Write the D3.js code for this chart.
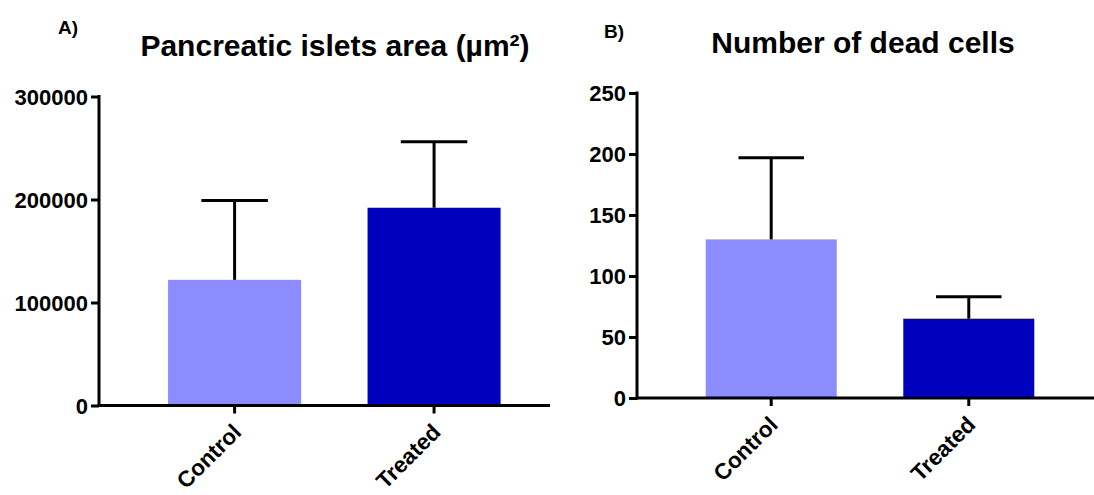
<!DOCTYPE html>
<html>
<head>
<meta charset="utf-8">
<script src="https://cdn.jsdelivr.net/npm/d3@7"></script>
<style>
  html, body { margin: 0; padding: 0; background: #fff; }
  svg text { font-family: "Liberation Sans", Arial, sans-serif; font-weight: bold; fill: #000; }
</style>
</head>
<body>
<svg id="chart" width="1094" height="495"></svg>
<script>
// Groups and colours
const categories = ["Control", "Treated"];
const barColors = ["#8c8cff", "#0000be"];

// Panel A: pancreatic islets area (mean and SD)
const areaMeans = [122000, 192000];
const areaSD = [77000, 64000];
const areaTicks = [0, 100000, 200000, 300000];

// Panel B: number of dead cells (mean and SD)
const deadMeans = [130, 65];
const deadSD = [67, 18];
const deadTicks = [0, 50, 100, 150, 200, 250];

const svg = d3.select("#chart");

function panel(cfg) {
  const g = svg.append("g");
  const y = d3.scaleLinear().domain(cfg.yDomain).range([cfg.y0, cfg.y1]);
  const x = d3.scaleBand().domain(categories).range([cfg.x0, cfg.x1])
    .paddingInner(cfg.padInner).paddingOuter(cfg.padOuter).align(cfg.align);

  // bars
  g.selectAll("rect.bar").data(cfg.means).join("rect")
    .attr("class", "bar")
    .attr("x", (d, i) => x(categories[i]))
    .attr("width", x.bandwidth())
    .attr("y", d => y(d))
    .attr("height", d => y(0) - y(d))
    .attr("fill", (d, i) => barColors[i]);

  // upward error bars
  const cap = x.bandwidth() / 2;
  cfg.means.forEach((m, i) => {
    const cx = x(categories[i]) + x.bandwidth() / 2;
    const top = y(m + cfg.sd[i]);
    g.append("line").attr("x1", cx).attr("x2", cx).attr("y1", y(m)).attr("y2", top)
      .attr("stroke", "#000").attr("stroke-width", 3);
    g.append("line").attr("x1", cx - cap / 2).attr("x2", cx + cap / 2).attr("y1", top).attr("y2", top)
      .attr("stroke", "#000").attr("stroke-width", 3);
  });

  // y axis
  const yAxis = g.append("g").attr("transform", `translate(${cfg.x0},0)`)
    .call(d3.axisLeft(y).tickValues(cfg.ticks).tickFormat(d3.format("d")).tickSize(8).tickPadding(3).tickSizeOuter(0));
  yAxis.select(".domain").attr("stroke-width", 3).attr("d", `M0,${cfg.y1 - 1.5}V${cfg.y0 + 1.5}`);
  yAxis.selectAll(".tick line").attr("stroke-width", 3);
  yAxis.selectAll(".tick text").style("font-size", "22px").attr("dy", "0.35em");

  // x axis
  const xAxis = g.append("g").attr("transform", `translate(0,${cfg.y0})`)
    .call(d3.axisBottom(x).tickSize(8).tickSizeOuter(0).tickFormat(""));
  xAxis.select(".domain").attr("stroke-width", 3).attr("d", `M${cfg.x0 - 1.5},0H${cfg.xEnd}`);
  xAxis.selectAll(".tick line").attr("stroke-width", 3);
  xAxis.selectAll(".tick").append("text")
    .attr("text-anchor", "end")
    .attr("transform", "translate(8,28) rotate(-45)")
    .style("font-size", "22.5px")
    .text(d => d);

  // title and panel letter
  g.append("text").attr("x", cfg.titleX).attr("y", cfg.titleY).attr("text-anchor", "middle")
    .style("font-size", "30px").text(cfg.title);
  g.append("text").attr("x", cfg.letterX).attr("y", cfg.letterY)
    .style("font-size", "19px").text(cfg.letter);
}

panel({
  means: areaMeans, sd: areaSD, ticks: areaTicks, yDomain: [0, 300000],
  x0: 99, x1: 548, xEnd: 550, y0: 405.5, y1: 96.5,
  padInner: 0.333, padOuter: 0.292, align: 0.593,
  title: "Pancreatic islets area (µm²)", titleX: 335, titleY: 56,
  letter: "A)", letterX: 58, letterY: 34
});

panel({
  means: deadMeans, sd: deadSD, ticks: deadTicks, yDomain: [0, 250],
  x0: 637, x1: 1094, xEnd: 1094, y0: 398, y1: 93,
  padInner: 0.337, padOuter: 0.325, align: 0.535,
  title: "Number of dead cells", titleX: 863, titleY: 53,
  letter: "B)", letterX: 604, letterY: 38
});
</script>
</body>
</html>
